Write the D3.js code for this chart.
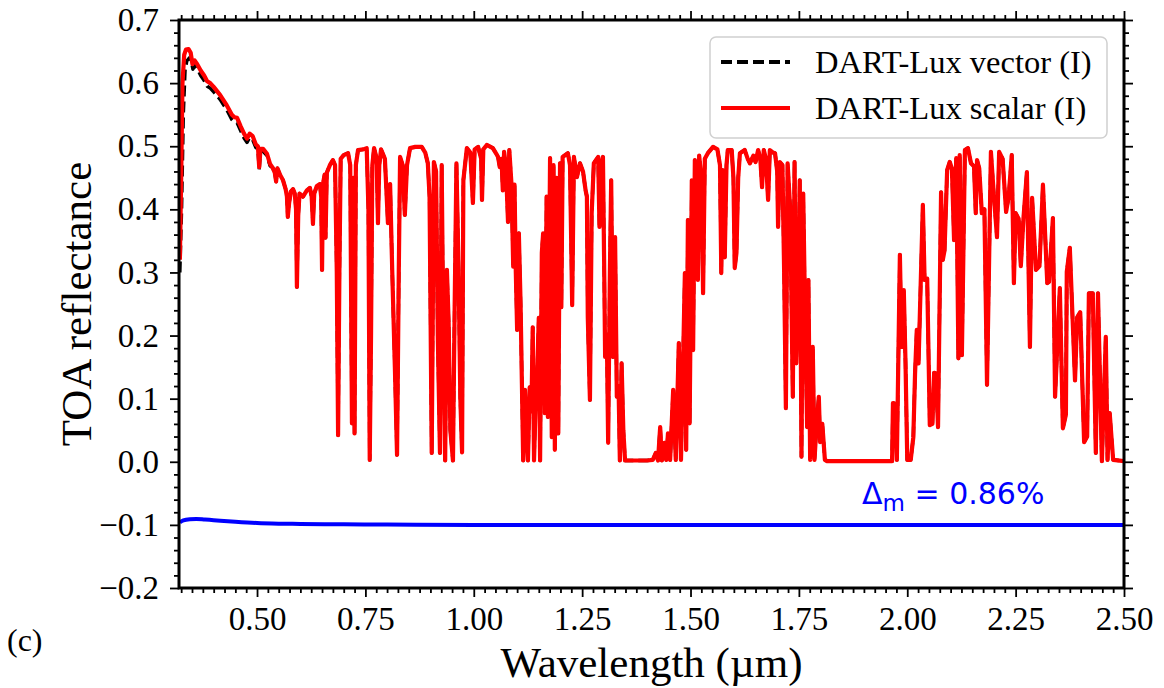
<!DOCTYPE html>
<html>
<head>
<meta charset="utf-8">
<script src="https://cdn.jsdelivr.net/npm/d3@7"></script>
<style>
  html, body { margin: 0; padding: 0; background: #fff; }
  svg { display: block; }
</style>
</head>
<body>
<svg id="chart" width="1164" height="688"></svg>
<script>
// ---------------- DATA ----------------
const xTickValues = [0.50, 0.75, 1.00, 1.25, 1.50, 1.75, 2.00, 2.25, 2.50];
const yTickValues = [-0.2, -0.1, 0.0, 0.1, 0.2, 0.3, 0.4, 0.5, 0.6, 0.7];
const seriesNames = ["DART-Lux vector (I)", "DART-Lux scalar (I)"];
const deltaLabel = "0.86%";

// DART-Lux scalar (I): [wavelength µm, TOA reflectance]
const scalarSpectrum = [
[0.322,0.32],[0.325,0.45],[0.328,0.60],[0.332,0.645],[0.336,0.653],[0.342,0.654],[0.347,0.648],[0.351,0.630],
[0.356,0.636],[0.362,0.630],[0.370,0.620],[0.378,0.612],[0.385,0.603],[0.392,0.600],[0.400,0.594],[0.415,0.581],
[0.430,0.565],[0.442,0.550],[0.448,0.546],[0.454,0.545],[0.462,0.532],[0.470,0.520],[0.477,0.512],[0.483,0.520],
[0.490,0.516],[0.497,0.503],[0.502,0.500],[0.505,0.467],[0.508,0.496],[0.514,0.496],[0.523,0.488],[0.530,0.472],
[0.536,0.466],[0.541,0.458],[0.544,0.444],[0.547,0.465],[0.553,0.455],[0.560,0.446],[0.566,0.432],[0.569,0.420],
[0.571,0.388],[0.574,0.410],[0.578,0.428],[0.583,0.432],[0.587,0.425],[0.590,0.400],[0.592,0.277],[0.595,0.390],
[0.598,0.425],[0.606,0.420],[0.615,0.430],[0.622,0.434],[0.626,0.420],[0.629,0.377],[0.632,0.425],[0.638,0.437],
[0.645,0.440],[0.648,0.420],[0.650,0.304],[0.652,0.440],[0.656,0.455],[0.658,0.355],[0.661,0.458],[0.668,0.470],
[0.675,0.478],[0.680,0.470],[0.684,0.300],[0.687,0.042],[0.690,0.300],[0.693,0.480],[0.700,0.486],[0.710,0.489],
[0.715,0.470],[0.719,0.061],[0.722,0.450],[0.725,0.045],[0.728,0.470],[0.733,0.494],[0.745,0.495],[0.753,0.497],
[0.757,0.400],[0.760,0.003],[0.763,0.200],[0.766,0.470],[0.770,0.497],[0.776,0.480],[0.779,0.378],[0.782,0.470],
[0.786,0.495],[0.795,0.480],[0.802,0.378],[0.807,0.440],[0.812,0.300],[0.818,0.150],[0.823,0.011],[0.827,0.300],
[0.830,0.483],[0.836,0.470],[0.841,0.391],[0.846,0.470],[0.853,0.497],[0.865,0.499],[0.880,0.499],[0.888,0.490],
[0.894,0.473],[0.898,0.420],[0.903,0.014],[0.908,0.475],[0.913,0.460],[0.917,0.200],[0.922,0.014],[0.926,0.470],
[0.929,0.250],[0.934,0.002],[0.938,0.304],[0.942,0.220],[0.946,0.050],[0.952,0.002],[0.956,0.250],[0.960,0.473],
[0.965,0.300],[0.969,0.100],[0.973,0.015],[0.976,0.446],[0.984,0.497],[0.992,0.490],[0.998,0.410],[1.002,0.495],
[1.010,0.499],[1.017,0.480],[1.019,0.415],[1.022,0.495],[1.030,0.502],[1.044,0.497],[1.052,0.488],[1.056,0.483],
[1.060,0.467],[1.064,0.480],[1.067,0.430],[1.070,0.491],[1.074,0.470],[1.079,0.380],[1.082,0.494],[1.087,0.440],
[1.091,0.309],[1.094,0.439],[1.097,0.300],[1.100,0.209],[1.104,0.362],[1.108,0.250],[1.111,0.125],[1.114,0.002],
[1.118,0.114],[1.122,0.050],[1.125,0.002],[1.129,0.118],[1.133,0.080],[1.136,0.213],[1.139,0.002],[1.143,0.100],
[1.146,0.134],[1.150,0.228],[1.153,0.002],[1.157,0.331],[1.160,0.362],[1.164,0.077],[1.168,0.420],[1.171,0.071],
[1.176,0.481],[1.180,0.039],[1.184,0.470],[1.187,0.019],[1.191,0.450],[1.195,0.045],[1.199,0.473],[1.202,0.245],
[1.205,0.483],[1.217,0.489],[1.222,0.470],[1.227,0.248],[1.231,0.483],[1.238,0.451],[1.245,0.473],[1.252,0.460],
[1.258,0.430],[1.261,0.420],[1.263,0.230],[1.268,0.098],[1.272,0.394],[1.277,0.473],[1.287,0.483],[1.290,0.372],
[1.294,0.470],[1.298,0.483],[1.301,0.300],[1.303,0.166],[1.307,0.200],[1.310,0.030],[1.314,0.300],[1.317,0.446],
[1.321,0.166],[1.326,0.356],[1.330,0.103],[1.334,0.120],[1.337,0.002],[1.341,0.156],[1.345,0.050],[1.349,0.002],
[1.400,0.002],[1.413,0.003],[1.420,0.014],[1.425,0.002],[1.430,0.055],[1.434,0.002],[1.440,0.030],[1.444,0.003],
[1.448,0.045],[1.453,0.003],[1.460,0.114],[1.466,0.003],[1.473,0.188],[1.478,0.003],[1.482,0.130],[1.487,0.299],
[1.490,0.019],[1.494,0.383],[1.498,0.061],[1.503,0.446],[1.506,0.177],[1.510,0.478],[1.514,0.400],[1.517,0.288],
[1.520,0.485],[1.525,0.450],[1.529,0.267],[1.533,0.480],[1.540,0.489],[1.552,0.499],[1.562,0.495],[1.568,0.470],
[1.571,0.299],[1.574,0.462],[1.577,0.420],[1.579,0.324],[1.583,0.470],[1.586,0.494],[1.595,0.494],[1.599,0.450],
[1.602,0.307],[1.606,0.331],[1.610,0.450],[1.614,0.489],[1.625,0.494],[1.632,0.480],[1.637,0.473],[1.645,0.485],
[1.650,0.475],[1.656,0.494],[1.661,0.480],[1.665,0.435],[1.669,0.494],[1.674,0.480],[1.679,0.415],[1.683,0.494],
[1.690,0.490],[1.695,0.489],[1.700,0.460],[1.702,0.372],[1.706,0.475],[1.712,0.470],[1.716,0.300],[1.720,0.085],
[1.724,0.473],[1.730,0.400],[1.736,0.103],[1.740,0.475],[1.744,0.156],[1.749,0.300],[1.752,0.446],[1.756,0.008],
[1.760,0.425],[1.765,0.200],[1.769,0.055],[1.772,0.288],[1.776,0.003],[1.782,0.182],[1.786,0.003],[1.790,0.050],
[1.796,0.103],[1.799,0.031],[1.804,0.060],[1.810,0.003],[1.815,0.001],[1.900,0.001],[1.965,0.001],[1.967,0.093],
[1.972,0.092],[1.976,0.003],[1.983,0.328],[1.987,0.182],[1.992,0.272],[1.996,0.156],[2.000,0.003],[2.008,0.003],
[2.014,0.039],[2.018,0.140],[2.022,0.209],[2.026,0.156],[2.036,0.407],[2.040,0.288],[2.046,0.290],[2.052,0.058],
[2.058,0.060],[2.062,0.141],[2.066,0.140],[2.071,0.055],[2.078,0.427],[2.082,0.320],[2.086,0.335],[2.092,0.462],
[2.098,0.475],[2.103,0.465],[2.108,0.351],[2.113,0.481],[2.118,0.164],[2.121,0.486],[2.126,0.169],[2.133,0.494],
[2.140,0.497],[2.147,0.473],[2.154,0.468],[2.158,0.394],[2.161,0.478],[2.166,0.465],[2.172,0.394],[2.178,0.400],
[2.184,0.122],[2.193,0.491],[2.200,0.420],[2.207,0.356],[2.212,0.491],[2.220,0.480],[2.228,0.396],[2.234,0.420],
[2.241,0.486],[2.246,0.283],[2.250,0.394],[2.257,0.385],[2.262,0.310],[2.268,0.385],[2.276,0.459],[2.283,0.182],
[2.288,0.418],[2.297,0.304],[2.305,0.310],[2.313,0.439],[2.323,0.283],[2.327,0.285],[2.336,0.386],[2.341,0.103],
[2.352,0.275],[2.359,0.053],[2.366,0.075],[2.368,0.301],[2.375,0.339],[2.387,0.129],[2.392,0.229],[2.399,0.237],
[2.408,0.031],[2.415,0.040],[2.419,0.267],[2.428,0.267],[2.435,0.014],[2.440,0.267],[2.449,0.001],[2.458,0.198],
[2.462,0.003],[2.467,0.077],[2.475,0.003],[2.500,0.001]
];

// DART-Lux vector (I): visible (slightly lower) part in the blue/UV; beyond 0.53 µm it lies under the scalar curve
const vectorUV = [
[0.322,0.30],[0.326,0.40],[0.330,0.55],[0.334,0.62],[0.338,0.635],[0.344,0.640],[0.348,0.636],[0.352,0.622],
[0.357,0.628],[0.363,0.622],[0.370,0.612],[0.378,0.604],[0.385,0.595],[0.392,0.592],[0.400,0.586],[0.415,0.574],
[0.430,0.558],[0.442,0.542],[0.448,0.538],[0.454,0.537],[0.462,0.525],[0.470,0.513],[0.477,0.506],[0.483,0.514],
[0.490,0.510],[0.497,0.498],[0.502,0.496],[0.505,0.463],[0.508,0.492],[0.514,0.492],[0.523,0.485],[0.530,0.469]
];

// Difference curve (plotted offset at -0.1)
const deltaWl   = [0.322, 0.330, 0.345, 0.360, 0.380, 0.400, 0.450, 0.500, 0.550, 0.600, 0.700, 0.800, 1.000, 1.500, 2.000, 2.500];
const deltaVals = [-0.096, -0.093, -0.091, -0.0905, -0.0915, -0.0925, -0.095, -0.097, -0.098, -0.0985, -0.099, -0.0995, -0.100, -0.100, -0.100, -0.100];

// ---------------- CHART ----------------
const svg = d3.select("#chart");
const L = 179, R = 1124, T = 20, B = 588;
const serif = "'Liberation Serif', 'Times New Roman', serif";

const x = d3.scaleLinear().domain([0.32, 2.5]).range([L, R]);
const y = d3.scaleLinear().domain([-0.2, 0.7]).range([B, T]);

svg.append("defs").append("clipPath").attr("id", "clip")
  .append("rect").attr("x", L).attr("y", T).attr("width", R - L).attr("height", B - T);

const line = d3.line().x(d => x(d[0])).y(d => y(d[1]));

const vectorSeries = vectorUV.concat(scalarSpectrum.filter(d => d[0] > 0.53));
const deltaSeries = deltaWl.map((w, i) => [w, deltaVals[i]]);

const plot = svg.append("g").attr("clip-path", "url(#clip)");

plot.append("path").datum(vectorSeries).attr("d", line)
  .attr("fill", "none").attr("stroke", "#000").attr("stroke-width", 3.4)
  .attr("stroke-linejoin", "round").attr("stroke-dasharray", "11,5");

plot.append("path").datum(scalarSpectrum).attr("d", line)
  .attr("fill", "none").attr("stroke", "#ff0000").attr("stroke-width", 4.2)
  .attr("stroke-linejoin", "round");

plot.append("path").datum(deltaSeries).attr("d", d3.line().x(d => x(d[0])).y(d => y(d[1])).curve(d3.curveMonotoneX))
  .attr("fill", "none").attr("stroke", "#0000ff").attr("stroke-width", 4);

// Axes
const xMinor = d3.range(0.325, 2.5001, 0.025).filter(v => xTickValues.every(t => Math.abs(t - v) > 1e-6));
const yMinor = d3.range(-0.2, 0.7001, 0.02).filter(v => yTickValues.every(t => Math.abs(t - v) > 1e-6));

function styleAxis(g) {
  g.select(".domain").remove();
  g.selectAll(".tick line").attr("stroke", "#000").attr("stroke-width", 1.8);
  g.selectAll("text").attr("font-family", serif).attr("font-size", 33).attr("fill", "#000");
}

svg.append("g").attr("transform", `translate(0,${B})`)
  .call(d3.axisBottom(x).tickValues(xTickValues).tickFormat(d3.format(".2f")).tickSize(9).tickPadding(10))
  .call(styleAxis);
svg.append("g").attr("transform", `translate(0,${B})`)
  .call(d3.axisBottom(x).tickValues(xMinor).tickFormat("").tickSize(5)).call(styleAxis);

svg.append("g").attr("transform", `translate(0,${T})`)
  .call(d3.axisTop(x).tickValues(xTickValues).tickFormat("").tickSize(9)).call(styleAxis);
svg.append("g").attr("transform", `translate(0,${T})`)
  .call(d3.axisTop(x).tickValues(xMinor).tickFormat("").tickSize(5)).call(styleAxis);

svg.append("g").attr("transform", `translate(${L},0)`)
  .call(d3.axisLeft(y).tickValues(yTickValues).tickFormat(d3.format(".1f")).tickSize(9).tickPadding(11))
  .call(styleAxis);
svg.append("g").attr("transform", `translate(${L},0)`)
  .call(d3.axisLeft(y).tickValues(yMinor).tickFormat("").tickSize(5)).call(styleAxis);

svg.append("g").attr("transform", `translate(${R},0)`)
  .call(d3.axisRight(y).tickValues(yTickValues).tickFormat("").tickSize(9)).call(styleAxis);
svg.append("g").attr("transform", `translate(${R},0)`)
  .call(d3.axisRight(y).tickValues(yMinor).tickFormat("").tickSize(5)).call(styleAxis);

// Frame
svg.append("rect").attr("x", L).attr("y", T).attr("width", R - L).attr("height", B - T)
  .attr("fill", "none").attr("stroke", "#000").attr("stroke-width", 3);

// Axis titles
svg.append("text").attr("x", (L + R) / 2).attr("y", 677).attr("text-anchor", "middle")
  .attr("font-family", serif).attr("font-size", 43).text("Wavelength (µm)");
svg.append("text").attr("transform", `translate(91,${(T + B) / 2}) rotate(-90)`).attr("text-anchor", "middle")
  .attr("font-family", serif).attr("font-size", 43).text("TOA reflectance");

svg.append("text").attr("x", 7).attr("y", 651).attr("font-family", serif).attr("font-size", 32).text("(c)");

// Delta annotation
const dt = svg.append("text").attr("x", 862).attr("y", 504)
  .attr("font-family", "'DejaVu Sans', sans-serif").attr("font-size", 30).attr("fill", "#0000ff");
dt.append("tspan").text("Δ");
dt.append("tspan").attr("font-size", 23).attr("dy", 7).text("m");
dt.append("tspan").attr("dy", -7).text(" = " + deltaLabel);

// Legend
const lg = svg.append("g");
lg.append("rect").attr("x", 710).attr("y", 37).attr("width", 397).attr("height", 101).attr("rx", 6)
  .attr("fill", "#fff").attr("fill-opacity", 0.85).attr("stroke", "#d0d0d0").attr("stroke-width", 1.5);
const legendItems = [
  { name: seriesNames[0], color: "#000", dash: "11,5", y: 62 },
  { name: seriesNames[1], color: "#ff0000", dash: null, y: 108 }
];
legendItems.forEach(it => {
  lg.append("line").attr("x1", 721).attr("x2", 790).attr("y1", it.y).attr("y2", it.y)
    .attr("stroke", it.color).attr("stroke-width", 3.8).attr("stroke-dasharray", it.dash);
  lg.append("text").attr("x", 815).attr("y", it.y + 11).attr("font-family", serif)
    .attr("font-size", 32.5).text(it.name);
});
</script>
</body>
</html>
